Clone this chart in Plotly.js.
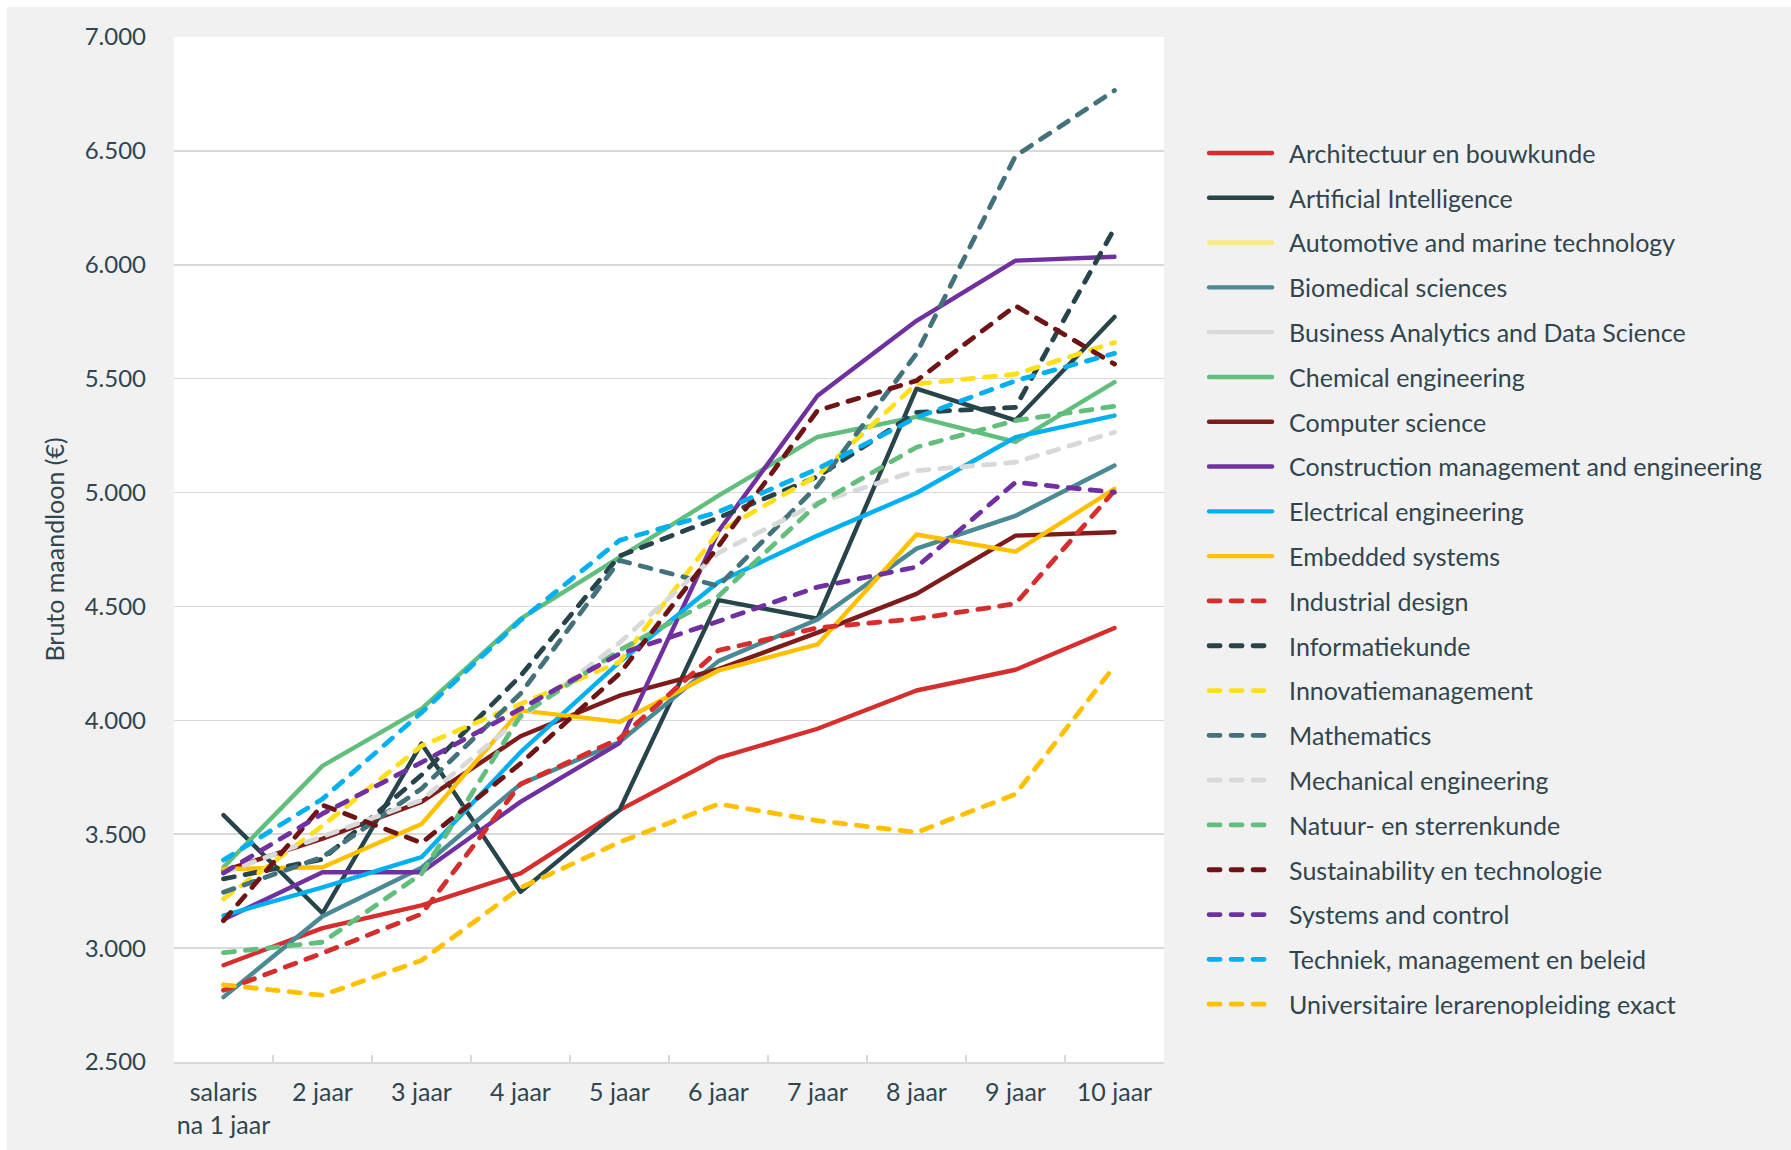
<!DOCTYPE html>
<html>
<head>
<meta charset="utf-8">
<script src="https://cdn.plot.ly/plotly-3.0.1.min.js"></script>
<style>
html, body { margin: 0; padding: 0; background: #ffffff; }
#chart { position: absolute; left: 7px; top: 7px; width: 1784px; height: 1143px; }
.scatterlayer .js-line, .legend .js-line { stroke-linecap: round !important; stroke-linejoin: round !important; }
</style>
</head>
<body>
<div id="chart"></div>
<script>
// ---- data ----
const categories = ["salaris<br>na 1 jaar", "2 jaar", "3 jaar", "4 jaar", "5 jaar", "6 jaar", "7 jaar", "8 jaar", "9 jaar", "10 jaar"];

const architectuur    = [2925, 3088, 3188, 3328, 3606, 3835, 3963, 4131, 4222, 4405];
const artificialIntel = [3584, 3153, 3898, 3247, 3606, 4528, 4446, 5456, 5317, 5771];
const automotive      = [null, null, null, null, null, null, null, null, null, null];
const biomedical      = [2785, 3140, 3353, 3720, 3905, 4260, 4443, 4754, 4898, 5119];
const businessAnalyt  = [null, null, null, null, null, null, null, null, null, null];
const chemical        = [3355, 3800, 4050, 4445, 4715, 4986, 5244, 5332, 5222, 5485];
const computerScience = [3340, 3480, 3642, 3930, 4108, 4225, 4385, 4555, 4811, 4826];
const construction    = [3126, 3333, 3333, 3642, 3900, 4830, 5425, 5754, 6018, 6035];
const electrical      = [3143, 3267, 3399, 3860, 4256, 4607, 4811, 4998, 5243, 5338];
const embedded        = [3347, 3355, 3545, 4044, 3993, 4219, 4333, 4816, 4741, 5016];
const industrial      = [2815, 2978, 3150, 3720, 3920, 4307, 4406, 4446, 4512, 5008];
const informatiekunde = [3304, 3390, 3760, 4195, 4722, 4890, 5070, 5352, 5374, 6160];
const innovatie       = [3216, 3537, 3888, 4070, 4256, 4828, 5075, 5477, 5520, 5659];
const mathematics     = [3245, 3400, 3700, 4117, 4702, 4590, 5030, 5610, 6478, 6765];
const mechanical      = [3330, 3490, 3650, 4010, 4340, 4735, 4955, 5096, 5133, 5265];
const natuur          = [2980, 3026, 3326, 4020, 4307, 4545, 4950, 5199, 5316, 5379];
const sustainability  = [3120, 3628, 3462, 3810, 4205, 4765, 5360, 5491, 5820, 5564];
const systemsControl  = [3330, 3590, 3815, 4050, 4292, 4435, 4585, 4673, 5045, 5001];
const techniek        = [3387, 3655, 4034, 4439, 4790, 4915, 5104, 5330, 5491, 5611];
const universitaire   = [2839, 2793, 2946, 3265, 3465, 3633, 3560, 3508, 3676, 4238];

const seriesNames = [
  "Architectuur en bouwkunde", "Artificial Intelligence", "Automotive and marine technology",
  "Biomedical sciences", "Business Analytics and Data Science", "Chemical engineering",
  "Computer science", "Construction management and engineering", "Electrical engineering",
  "Embedded systems", "Industrial design", "Informatiekunde", "Innovatiemanagement",
  "Mathematics", "Mechanical engineering", "Natuur- en sterrenkunde",
  "Sustainability en technologie", "Systems and control", "Techniek, management en beleid",
  "Universitaire lerarenopleiding exact"
];
const seriesValues = [
  architectuur, artificialIntel, automotive, biomedical, businessAnalyt, chemical,
  computerScience, construction, electrical, embedded, industrial, informatiekunde,
  innovatie, mathematics, mechanical, natuur, sustainability, systemsControl,
  techniek, universitaire
];

// ---- styles ----
const seriesColors = [
  "#d62d2d", "#27444a", "#ffe978", "#4a8a95", "#d9d9d9", "#62be7c",
  "#7f1b1b", "#7030a0", "#00b0f0", "#ffc000", "#d62d2d", "#27444a",
  "#ffdf1b", "#43727c", "#d9d9d9", "#62be7c", "#6e1414", "#7030a0",
  "#00b0f0", "#ffc000"
];
const DASHED = "11px,11px";
const seriesDash = [
  "solid", "solid", "solid", "solid", "solid", "solid", "solid", "solid", "solid", "solid",
  DASHED, DASHED, DASHED, DASHED, DASHED, DASHED, DASHED, DASHED, DASHED, DASHED
];

const traces = seriesNames.map((name, i) => ({
  type: "scatter",
  mode: "lines",
  name: name,
  legendgroup: "g" + i,
  x: categories,
  y: seriesValues[i],
  line: { color: seriesColors[i], width: i >= 10 ? 4.8 : 4.4, dash: seriesDash[i] },
  hoverinfo: "x+y+name"
}));

const textColor = "#30454e";
const gridColor = "#d9d9d9";

const layout = {
  width: 1784,
  height: 1143,
  paper_bgcolor: "#f1f1f1",
  plot_bgcolor: "#ffffff",
  margin: { l: 167, r: 627, t: 30, b: 88, autoexpand: false },
  font: { family: "Lato, 'Open Sans', sans-serif", size: 24, color: textColor },
  separators: ",.",
  showlegend: true,
  xaxis: {
    type: "category",
    range: [-0.5, 9.5],
    tickson: "boundaries",
    ticks: "inside",
    ticklen: 7,
    tickwidth: 1.5,
    tickcolor: gridColor,
    tickangle: 0,
    showline: true,
    linecolor: gridColor,
    linewidth: 2,
    showgrid: false,
    zeroline: false,
    automargin: false,
    ticklabelstandoff: 7,
    tickfont: { size: 25, color: textColor }
  },
  yaxis: {
    range: [2500, 7000],
    tick0: 2500,
    dtick: 500,
    tickformat: ",",
    showgrid: true,
    gridcolor: gridColor,
    gridwidth: 1.5,
    zeroline: false,
    showline: false,
    ticks: "",
    automargin: false,
    ticklabelstandoff: 27,
    tickfont: { size: 24, color: textColor },
    title: { text: "Bruto maandloon (€)", font: { size: 25, color: textColor }, standoff: 12 }
  },
  legend: {
    xref: "container",
    yref: "container",
    x: 0.671,
    y: 0.8922,
    xanchor: "left",
    yanchor: "top",
    maxheight: 2000,
    bgcolor: "rgba(0,0,0,0)",
    borderwidth: 0,
    font: { size: 25, color: textColor },
    itemwidth: 75,
    traceorder: "grouped",
    tracegroupgap: 9.3,
    itemclick: false,
    itemdoubleclick: false
  }
};

Plotly.newPlot("chart", traces, layout, { displayModeBar: false, staticPlot: true }).then(gd => {
  gd.querySelectorAll(".legend path.js-line").forEach(p => p.setAttribute("d", "M5,0h63"));
});
</script>
</body>
</html>
